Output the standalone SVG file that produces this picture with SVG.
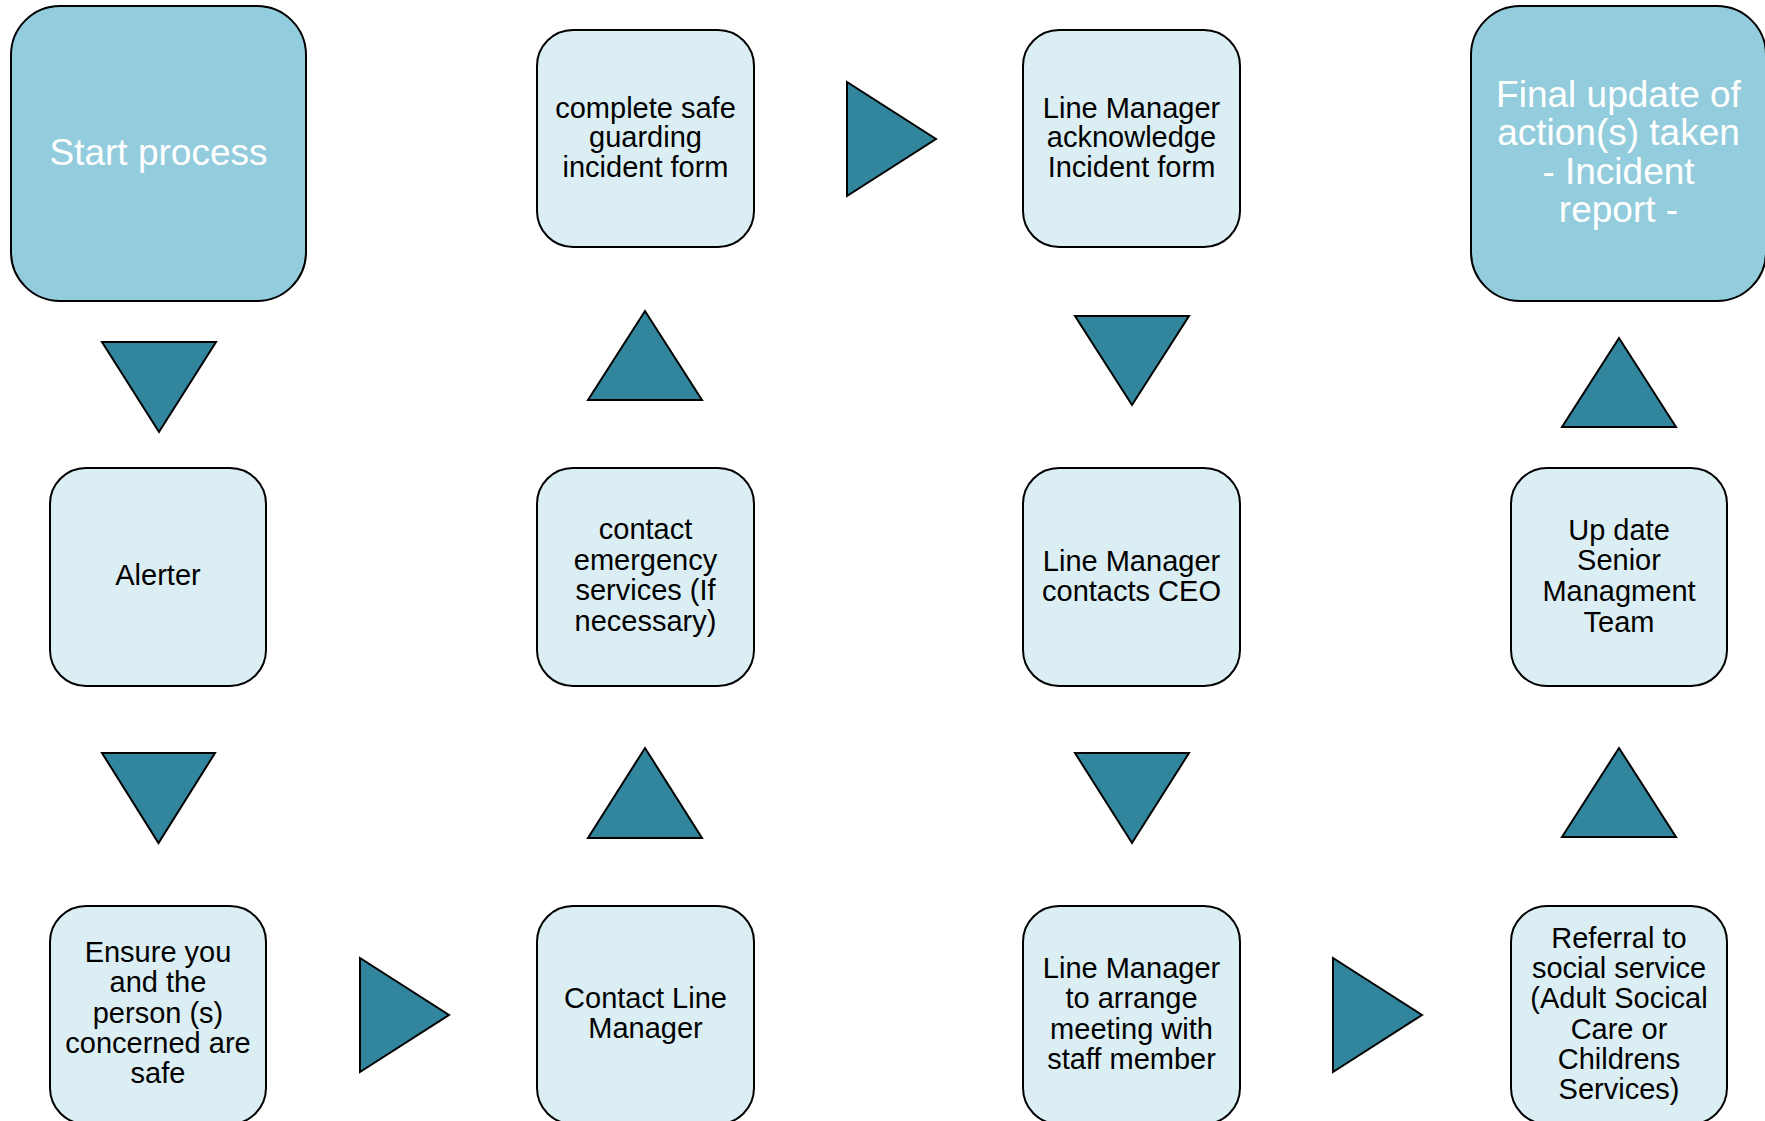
<svg xmlns="http://www.w3.org/2000/svg" width="1765" height="1121" viewBox="0 0 1765 1121">
<style>
.big{fill:#93CDDD;stroke:#000;stroke-width:2}
.box{fill:#DAEEF3;stroke:#000;stroke-width:2}
.arr{fill:#31859C;stroke:#000;stroke-width:2;stroke-linejoin:miter}
text{font-family:"Liberation Sans",Arial,sans-serif;text-anchor:middle}
.t{font-size:29px;fill:#000}
.tw{font-size:37px;fill:#fff}
</style>
<rect width="1765" height="1121" fill="#fff"/>
<g id="connectors">
<polygon class="arr" points="102,342 216,342 159,432"/>
<polygon class="arr" points="102,753 215,753 158.5,843"/>
<polygon class="arr" points="360,958 360,1072 449,1015"/>
<polygon class="arr" points="588,838 702,838 645,748"/>
<polygon class="arr" points="588,400 702,400 645,311"/>
<polygon class="arr" points="847,82 847,196 936,139"/>
<polygon class="arr" points="1075,316 1189,316 1132,405"/>
<polygon class="arr" points="1075,753 1189,753 1132,843"/>
<polygon class="arr" points="1333,958 1333,1072 1422,1015"/>
<polygon class="arr" points="1562,837 1676,837 1619,748"/>
<polygon class="arr" points="1562,427 1676,427 1619,338"/>
</g>
<g id="start">
<rect class="big" x="11" y="6" width="295" height="295" rx="49"/>
<text class="tw" x="158.5" y="165">Start process</text>
</g>
<g id="alerter">
<rect class="box" x="50" y="468" width="216" height="218" rx="36"/>
<text class="t" x="158" y="585">Alerter</text>
</g>
<g id="ensure">
<rect class="box" x="50" y="906" width="216" height="218" rx="36"/>
<text class="t" x="158"><tspan x="158" y="962">Ensure you</tspan><tspan x="158" y="992">and the</tspan><tspan x="158" y="1023">person (s)</tspan><tspan x="158" y="1053">concerned are</tspan><tspan x="158" y="1083">safe</tspan></text>
</g>
<g id="contact-line-manager">
<rect class="box" x="537" y="906" width="217" height="218" rx="36"/>
<text class="t"><tspan x="645.5" y="1008">Contact Line</tspan><tspan x="645.5" y="1038">Manager</tspan></text>
</g>
<g id="contact-emergency">
<rect class="box" x="537" y="468" width="217" height="218" rx="36"/>
<text class="t"><tspan x="645.5" y="539">contact</tspan><tspan x="645.5" y="570">emergency</tspan><tspan x="645.5" y="600">services (If</tspan><tspan x="645.5" y="631">necessary)</tspan></text>
</g>
<g id="complete-form">
<rect class="box" x="537" y="30" width="217" height="217" rx="36"/>
<text class="t"><tspan x="645.5" y="118">complete safe</tspan><tspan x="645.5" y="147">guarding</tspan><tspan x="645.5" y="177">incident form</tspan></text>
</g>
<g id="lm-acknowledge">
<rect class="box" x="1023" y="30" width="217" height="217" rx="36"/>
<text class="t"><tspan x="1131.5" y="118">Line Manager</tspan><tspan x="1131.5" y="147">acknowledge</tspan><tspan x="1131.5" y="177">Incident form</tspan></text>
</g>
<g id="lm-ceo">
<rect class="box" x="1023" y="468" width="217" height="218" rx="36"/>
<text class="t"><tspan x="1131.5" y="571">Line Manager</tspan><tspan x="1131.5" y="601">contacts CEO</tspan></text>
</g>
<g id="lm-meeting">
<rect class="box" x="1023" y="906" width="217" height="218" rx="36"/>
<text class="t"><tspan x="1131.5" y="978">Line Manager</tspan><tspan x="1131.5" y="1008">to arrange</tspan><tspan x="1131.5" y="1039">meeting with</tspan><tspan x="1131.5" y="1069">staff member</tspan></text>
</g>
<g id="referral">
<rect class="box" x="1511" y="906" width="216" height="218" rx="36"/>
<text class="t"><tspan x="1619" y="948">Referral to</tspan><tspan x="1619" y="978">social service</tspan><tspan x="1619" y="1008">(Adult Socical</tspan><tspan x="1619" y="1039">Care or</tspan><tspan x="1619" y="1069">Childrens</tspan><tspan x="1619" y="1099">Services)</tspan></text>
</g>
<g id="update-smt">
<rect class="box" x="1511" y="468" width="216" height="218" rx="36"/>
<text class="t"><tspan x="1619" y="540">Up date</tspan><tspan x="1619" y="570">Senior</tspan><tspan x="1619" y="601">Managment</tspan><tspan x="1619" y="632">Team</tspan></text>
</g>
<g id="final">
<rect class="big" x="1471" y="6" width="295" height="295" rx="49"/>
<text class="tw"><tspan x="1618.5" y="107">Final update of</tspan><tspan x="1618.5" y="145">action(s) taken</tspan><tspan x="1618.5" y="184">- Incident</tspan><tspan x="1618.5" y="222">report -</tspan></text>
</g>
</svg>
